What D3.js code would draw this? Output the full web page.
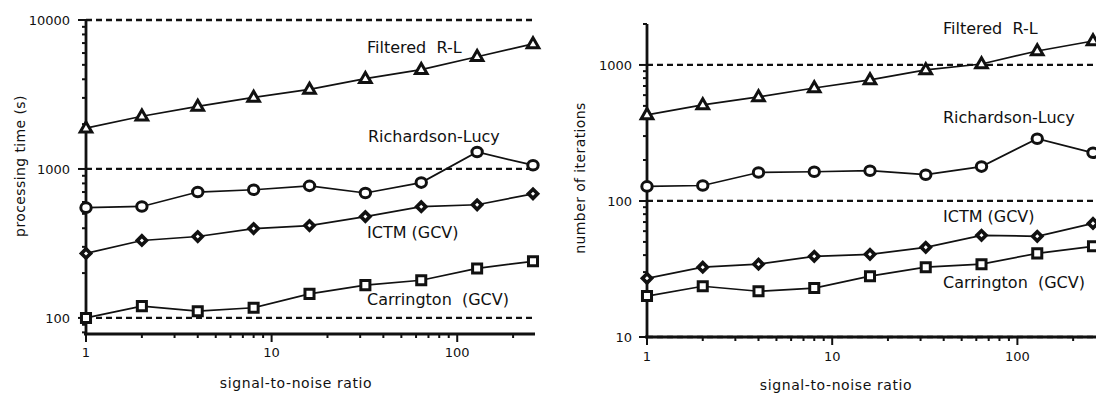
<!DOCTYPE html>
<html>
<head>
<meta charset="utf-8">
<script src="https://cdn.jsdelivr.net/npm/d3@7"></script>
<style>
  html, body { margin: 0; padding: 0; background: #fff; }
  svg { display: block; }
  text { font-family: "DejaVu Sans", sans-serif; fill: #111; }
</style>
</head>
<body>
<div id="chart"></div>
<script>
// signal-to-noise ratios (x for both panels)
const snr = [1, 2, 4, 8, 16, 32, 64, 128, 256];

// left panel: processing time (s)
const timeFiltered = [1880, 2260, 2630, 3020, 3420, 4040, 4640, 5670, 6920];
const timeRL = [550, 560, 700, 725, 770, 690, 810, 1300, 1060];
const timeICTM = [271, 331, 352, 398, 417, 479, 558, 575, 681];
const timeCarr = [100, 120, 111, 117, 145, 166, 179, 215, 240];

// right panel: number of iterations
const iterFiltered = [430, 509, 583, 677, 776, 919, 1016, 1267, 1500];
const iterRL = [128, 130, 162, 164, 167, 156, 179, 287, 226];
const iterICTM = [27, 32.6, 34.3, 39.2, 40.5, 45.6, 55.9, 55, 68.4];
const iterCarr = [20, 23.6, 21.7, 22.9, 28, 32.6, 34.3, 41.2, 46.4];

const xTickLabels = [1, 10, 100];
const timeRefLines = [100, 1000, 10000];
const iterRefLines = [10, 100, 1000];
const seriesNames = ["Filtered  R-L", "Richardson-Lucy", "ICTM (GCV)", "Carrington  (GCV)"];

const W = 1096, H = 394;
const svg = d3.select("#chart").append("svg")
  .attr("width", W).attr("height", H)
  .attr("viewBox", `0 0 ${W} ${H}`);

// marker drawing: open symbols with heavy outline
const markers = {
  tri: (g) => g.append("path").attr("d", d3.symbol(d3.symbolTriangle, 58)()).attr("transform", "translate(0,0.5)"),
  circ: (g) => g.append("ellipse").attr("rx", 5.2).attr("ry", 4.8),
  diam: (g) => g.append("path").attr("d", d3.symbol(d3.symbolSquare, 42)()).attr("transform", "rotate(45)"),
  sq: (g) => g.append("path").attr("d", d3.symbol(d3.symbolSquare, 82)()),
};

function panel(cfg) {
  const x = d3.scaleLog().domain([1, 256]).range([cfg.x0, cfg.x1]);
  const y = d3.scaleLog().domain(cfg.yDomain).range([cfg.yBottom, cfg.yTop]);
  const g = svg.append("g");

  // dashed reference lines at the decades
  g.append("g").selectAll("line").data(cfg.refLines).join("line")
    .attr("x1", cfg.x0).attr("x2", cfg.refEnd)
    .attr("y1", (d) => y(d)).attr("y2", (d) => y(d))
    .attr("stroke", "#111").attr("stroke-width", 2.3)
    .attr("stroke-dasharray", "6,4");

  // y axis: log ticks, major ones longer and labelled
  const yTicks = y.ticks().filter((d) => d >= cfg.yDomain[0] && d <= cfg.yDomain[1]);
  const isMajor = (d) => Math.abs(Math.log10(d) - Math.round(Math.log10(d))) < 1e-6;
  const ya = g.append("g").attr("transform", `translate(${cfg.x0},0)`);
  ya.append("line").attr("y1", cfg.yTop).attr("y2", cfg.yBottom)
    .attr("stroke", "#111").attr("stroke-width", 2.8);
  ya.selectAll(".tk").data(yTicks).join("line")
    .attr("x1", (d) => (isMajor(d) ? -8 : -4)).attr("x2", 0)
    .attr("y1", (d) => y(d)).attr("y2", (d) => y(d))
    .attr("stroke", "#111").attr("stroke-width", 2);
  ya.selectAll("text").data(yTicks.filter(isMajor)).join("text")
    .attr("x", -cfg.yLabelPad).attr("y", (d) => y(d) + 4.6)
    .attr("text-anchor", "end").style("font-size", "13px")
    .text((d) => d);

  // x axis
  const xTicks = x.ticks();
  const xa = g.append("g").attr("transform", `translate(0,${cfg.yBottom})`);
  xa.append("line").attr("x1", cfg.x0 - 2).attr("x2", cfg.axisEnd)
    .attr("stroke", "#111").attr("stroke-width", 2.8);
  xa.selectAll(".tk").data(xTicks).join("line")
    .attr("x1", (d) => x(d)).attr("x2", (d) => x(d))
    .attr("y1", 0).attr("y2", (d) => (isMajor(d) ? 8 : 4))
    .attr("stroke", "#111").attr("stroke-width", 2);
  xa.selectAll("text").data(xTickLabels).join("text")
    .attr("x", (d) => x(d)).attr("y", cfg.xLabelDy)
    .attr("text-anchor", "middle").style("font-size", "13px")
    .text((d) => d);

  // axis titles
  g.append("text")
    .attr("x", cfg.xTitle[0]).attr("y", cfg.xTitle[1])
    .style("font-size", "14px").style("letter-spacing", "0.6px")
    .attr("text-anchor", "middle")
    .text("signal-to-noise ratio");
  g.append("text")
    .attr("transform", `translate(${cfg.yTitle[0]},${cfg.yTitle[1]}) rotate(-90)`)
    .style("font-size", "14px").style("letter-spacing", "0.4px")
    .attr("text-anchor", "middle")
    .text(cfg.yTitleText);

  // series
  const line = d3.line().x((d, i) => x(snr[i])).y((d) => y(d));
  cfg.series.forEach((s, k) => {
    g.append("path").datum(s.values)
      .attr("fill", "none").attr("stroke", "#111").attr("stroke-width", 1.7)
      .attr("d", line);
    const pts = g.append("g").selectAll("g").data(s.values).join("g")
      .attr("transform", (d, i) => `translate(${x(snr[i])},${y(d)})`);
    pts.each(function () {
      markers[s.marker](d3.select(this))
        .attr("fill", "#fff").attr("stroke", "#111")
        .attr("stroke-width", s.marker === "diam" ? 3.6 : 3);
    });
    g.append("text")
      .attr("x", cfg.labelPos[k][0]).attr("y", cfg.labelPos[k][1])
      .style("font-size", "16px").style("white-space", "pre")
      .text(seriesNames[k]);
  });
}

panel({
  x0: 86, x1: 533, axisEnd: 535, refEnd: 533,
  yDomain: [78, 10000], yTop: 20, yBottom: 334,
  refLines: timeRefLines, yLabelPad: 16, xLabelDy: 23,
  xTitle: [296, 388], yTitle: [25, 166], yTitleText: "processing time (s)",
  labelPos: [[367, 53], [368, 142], [367, 238], [367, 305]],
  series: [
    { values: timeFiltered, marker: "tri" },
    { values: timeRL, marker: "circ" },
    { values: timeICTM, marker: "diam" },
    { values: timeCarr, marker: "sq" },
  ],
});

panel({
  x0: 647, x1: 1093, axisEnd: 1096, refEnd: 1096,
  yDomain: [10, 2000], yTop: 24, yBottom: 337,
  refLines: iterRefLines, yLabelPad: 15, xLabelDy: 24,
  xTitle: [836, 390], yTitle: [585, 178], yTitleText: "number of iterations",
  labelPos: [[943, 34], [943, 123], [943, 222], [943, 288]],
  series: [
    { values: iterFiltered, marker: "tri" },
    { values: iterRL, marker: "circ" },
    { values: iterICTM, marker: "diam" },
    { values: iterCarr, marker: "sq" },
  ],
});
</script>
</body>
</html>
